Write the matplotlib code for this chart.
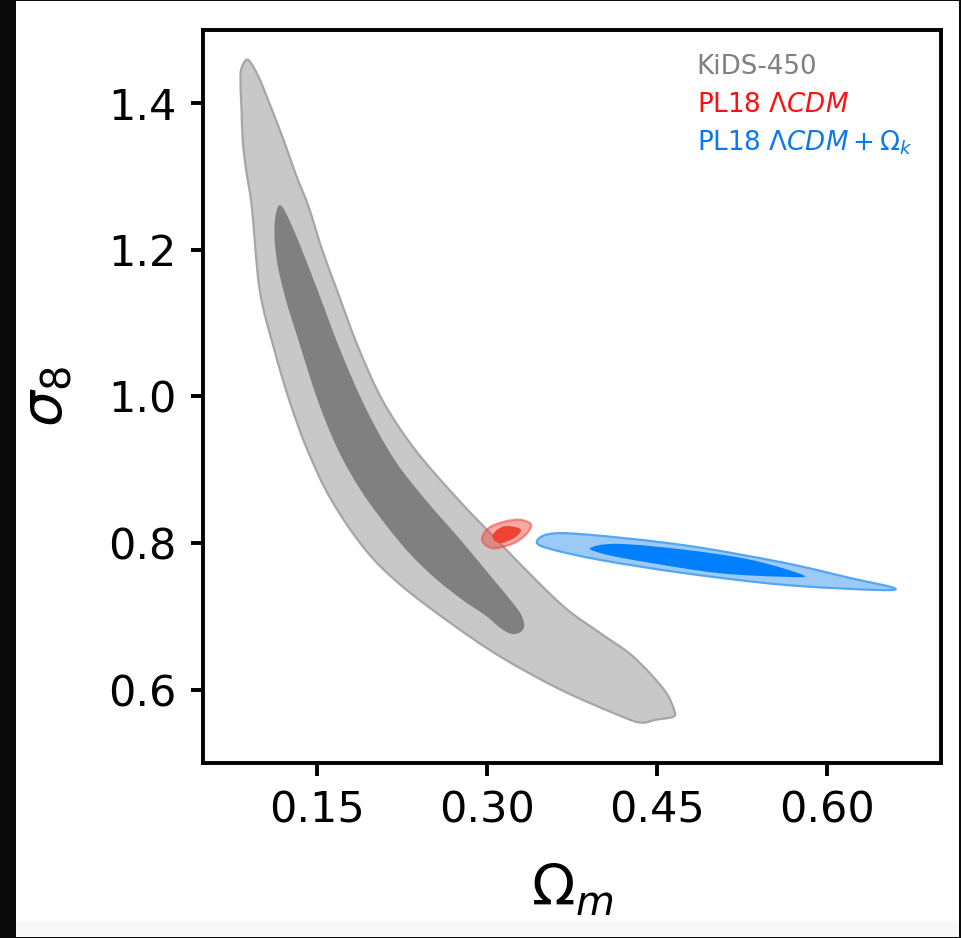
import numpy as np
import matplotlib
matplotlib.use("Agg")
import matplotlib.pyplot as plt
from matplotlib.path import Path
from matplotlib.patches import PathPatch, Rectangle

# contour outlines (Omega_m, sigma_8)
kids_outer_om = [0.090, 0.099, 0.109, 0.121, 0.132, 0.143, 0.155, 0.168, 0.186, 0.208,
                 0.237, 0.275, 0.309, 0.343, 0.371, 0.400, 0.429, 0.456, 0.465, 0.464,
                 0.449, 0.436, 0.418, 0.365, 0.312, 0.268, 0.224, 0.193, 0.163, 0.142,
                 0.126, 0.113, 0.100, 0.093, 0.088, 0.085, 0.084, 0.083, 0.085]
kids_outer_s8 = [1.459, 1.436, 1.398, 1.350, 1.302, 1.259, 1.200, 1.145, 1.070, 0.995,
                 0.927, 0.859, 0.804, 0.750, 0.709, 0.677, 0.645, 0.600, 0.572, 0.563,
                 0.559, 0.555, 0.564, 0.600, 0.645, 0.691, 0.743, 0.791, 0.859, 0.927,
                 0.995, 1.063, 1.145, 1.259, 1.309, 1.350, 1.391, 1.436, 1.452]

kids_inner_om = [0.118, 0.130, 0.151, 0.171, 0.194, 0.219, 0.246, 0.277, 0.306, 0.321,
                 0.330, 0.333, 0.330, 0.322, 0.312, 0.299, 0.279, 0.256, 0.233, 0.211,
                 0.189, 0.169, 0.151, 0.134, 0.123, 0.115, 0.113]
kids_inner_s8 = [1.261, 1.227, 1.145, 1.063, 0.982, 0.913, 0.859, 0.804, 0.750, 0.722,
                 0.703, 0.688, 0.679, 0.676, 0.684, 0.701, 0.722, 0.750, 0.784, 0.825,
                 0.872, 0.927, 0.995, 1.077, 1.132, 1.186, 1.234]

pl_outer_om = [0.339, 0.336, 0.327, 0.315, 0.303, 0.297, 0.296, 0.301, 0.309, 0.324, 0.334]
pl_outer_s8 = [0.823, 0.829, 0.832, 0.829, 0.822, 0.812, 0.803, 0.795, 0.793, 0.800, 0.811]
pl_inner_om = [0.330, 0.325, 0.316, 0.309, 0.305, 0.307, 0.313, 0.323, 0.328]
pl_inner_s8 = [0.818, 0.822, 0.823, 0.818, 0.810, 0.803, 0.800, 0.806, 0.812]

plk_outer_om = [0.344, 0.354, 0.385, 0.474, 0.562, 0.621, 0.658, 0.645, 0.562, 0.474, 0.400, 0.356]
plk_outer_s8 = [0.801, 0.812, 0.812, 0.797, 0.773, 0.752, 0.739, 0.736, 0.743, 0.759, 0.777, 0.792]
plk_inner_om = [0.391, 0.415, 0.474, 0.533, 0.579, 0.562, 0.504, 0.444, 0.406]
plk_inner_s8 = [0.793, 0.799, 0.791, 0.777, 0.756, 0.754, 0.759, 0.773, 0.784]

labels = ["KiDS-450", r"PL18 $\Lambda CDM$", r"PL18 $\Lambda CDM + \Omega_k$"]
label_colors = ["#808080", "#ff1010", "#0a78f0"]


def smooth_path(xs, ys):
    # closed Catmull-Rom outline through the read points, as cubic Bezier segments
    p = np.column_stack([xs, ys]).astype(float)
    n = len(p)
    verts = [p[0]]
    codes = [Path.MOVETO]
    for i in range(n):
        p0, p1, p2, p3 = p[i - 1], p[i], p[(i + 1) % n], p[(i + 2) % n]
        verts += [p1 + (p2 - p0) / 6.0, p2 - (p3 - p1) / 6.0, p2]
        codes += [Path.CURVE4] * 3
    verts.append(p[0])
    codes.append(Path.CLOSEPOLY)
    return Path(np.array(verts), codes)


fig = plt.figure(figsize=(9.61, 9.38), dpi=100)
ax = fig.add_axes([0.2112, 0.1866, 0.768, 0.7814])

ax.add_patch(PathPatch(smooth_path(kids_outer_om, kids_outer_s8), facecolor="#c8c8c8",
                       edgecolor="#a6a6a6", lw=1.6, zorder=1))
ax.add_patch(PathPatch(smooth_path(kids_inner_om, kids_inner_s8), facecolor="#808080",
                       edgecolor="none", zorder=2))
ax.add_patch(PathPatch(smooth_path(pl_outer_om, pl_outer_s8), facecolor=(0.95, 0.25, 0.2, 0.45),
                       edgecolor=(0.95, 0.3, 0.3, 0.6), lw=1.6, zorder=3))
ax.add_patch(PathPatch(smooth_path(pl_inner_om, pl_inner_s8), facecolor="#f04232",
                       edgecolor="none", zorder=4))
ax.add_patch(PathPatch(smooth_path(plk_outer_om, plk_outer_s8), facecolor="#9ccaf6",
                       edgecolor="#55a6f2", lw=1.6, zorder=3))
ax.add_patch(PathPatch(smooth_path(plk_inner_om, plk_inner_s8), facecolor="#0080ff",
                       edgecolor="none", zorder=4))

ax.set_xlim(0.05, 0.70)
ax.set_ylim(0.5, 1.5)
ax.set_xticks([0.15, 0.30, 0.45, 0.60])
ax.set_xticklabels(["0.15", "0.30", "0.45", "0.60"])
ax.set_yticks([0.6, 0.8, 1.0, 1.2, 1.4])
ax.set_yticklabels(["0.6", "0.8", "1.0", "1.2", "1.4"])
ax.tick_params(direction="out", length=9, width=2.8, labelsize=31, pad=10)
for sp in ax.spines.values():
    sp.set_linewidth(2.8)

ax.set_xlabel(r"$\Omega_m$", fontsize=41, labelpad=22)
ax.set_ylabel(r"$\sigma_8$", fontsize=41, labelpad=24)

for i, (lab, col) in enumerate(zip(labels, label_colors)):
    ax.text(0.669, 0.94 - 0.052 * i, lab, color=col, fontsize=18.8,
            transform=ax.transAxes, ha="left", va="baseline")

# screenshot frame around the figure
fig.patches.append(Rectangle((0, 0), 16 / 961, 1, transform=fig.transFigure,
                             facecolor="#0a0a0a", edgecolor="none", zorder=0))
fig.patches.append(Rectangle((0, 1 - 1.5 / 938), 1, 1.5 / 938, transform=fig.transFigure,
                             facecolor="#0a0a0a", edgecolor="none", zorder=0))
fig.patches.append(Rectangle((1 - 2 / 961, 0), 2 / 961, 1, transform=fig.transFigure,
                             facecolor="#0a0a0a", edgecolor="none", zorder=0))
fig.patches.append(Rectangle((16 / 961, 1.5 / 938), 1 - 18 / 961, 16 / 938, transform=fig.transFigure,
                             facecolor="#f8f8f8", edgecolor="none", zorder=0))
fig.patches.append(Rectangle((0, 0), 1, 1.5 / 938, transform=fig.transFigure,
                             facecolor="#0a0a0a", edgecolor="none", zorder=0))

fig.savefig("out.png", dpi=100)
